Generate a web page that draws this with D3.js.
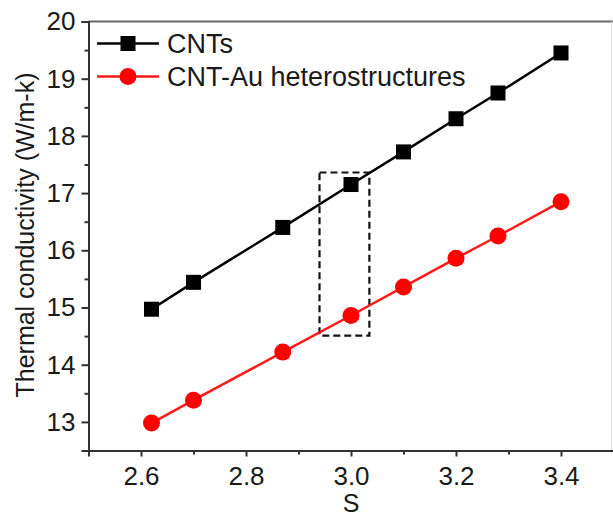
<!DOCTYPE html>
<html>
<head>
<meta charset="utf-8">
<script src="https://cdn.jsdelivr.net/npm/d3@7"></script>
<style>
  body { margin: 0; background: #fff; }
  svg { display: block; font-family: "Liberation Sans", Arial, sans-serif; }
</style>
</head>
<body>
<script>
// Data
const sValues   = [2.62, 2.70, 2.87, 3.00, 3.10, 3.20, 3.28, 3.40];
const cnts      = [14.97, 15.44, 16.40, 17.15, 17.72, 18.30, 18.75, 19.45];
const cntAu     = [12.98, 13.38, 14.22, 14.86, 15.36, 15.86, 16.25, 16.85];
const xTicks    = [2.6, 2.8, 3.0, 3.2, 3.4];
const yTicks    = [13, 14, 15, 16, 17, 18, 19, 20];
const seriesNames = ["CNTs", "CNT-Au heterostructures"];
const highlight = { x0: 2.94, x1: 3.035, y0: 14.51, y1: 17.36 };

const width = 613, height = 518;
const margin = { top: 21.5, right: -0.5, bottom: 67.5, left: 88.5 };

const x = d3.scaleLinear().domain([2.5, 3.5]).range([margin.left, width - margin.right]);
const y = d3.scaleLinear().domain([12.5, 20]).range([height - margin.bottom, margin.top]);

const svg = d3.select("body").append("svg")
    .attr("width", width)
    .attr("height", height);

const textColor = "#1a1a1a";

// frame: top and right edges
svg.append("line")
    .attr("x1", margin.left).attr("x2", width)
    .attr("y1", y(20)).attr("y2", y(20))
    .attr("stroke", "#666").attr("stroke-width", 2);
svg.append("line")
    .attr("x1", 611.5).attr("x2", 611.5)
    .attr("y1", y(20)).attr("y2", y(12.5))
    .attr("stroke", "#ddd").attr("stroke-width", 1);

// x axis
svg.append("g")
    .attr("transform", `translate(0,${y(12.5)})`)
    .call(d3.axisBottom(x).tickValues(xTicks).tickFormat(d3.format(".1f")).tickSize(6).tickPadding(10));
svg.append("g")
    .attr("transform", `translate(0,${y(12.5)})`)
    .call(d3.axisBottom(x).tickValues([2.7, 2.9, 3.1, 3.3]).tickFormat("").tickSize(4))
    .call(g => g.select(".domain").remove());

// y axis
svg.append("g")
    .attr("transform", `translate(${x(2.5)},0)`)
    .call(d3.axisLeft(y).tickValues(yTicks).tickFormat(d3.format("d")).tickSize(7).tickPadding(6));
svg.append("g")
    .attr("transform", `translate(${x(2.5)},0)`)
    .call(d3.axisLeft(y).tickValues([12.5, 13.5, 14.5, 15.5, 16.5, 17.5, 18.5, 19.5]).tickFormat("").tickSize(4))
    .call(g => g.select(".domain").remove());

svg.selectAll(".domain").attr("stroke", "#333").attr("stroke-width", 2);
svg.selectAll(".tick line").attr("stroke", "#333").attr("stroke-width", 2);
svg.selectAll(".tick text")
    .attr("fill", textColor)
    .style("font-size", "26px")
    .style("font-family", "'Liberation Sans', Arial, sans-serif");

// axis titles
svg.append("text")
    .attr("x", x(3.0))
    .attr("y", 512)
    .attr("text-anchor", "middle")
    .attr("fill", textColor)
    .style("font-size", "25px")
    .text("S");

svg.append("text")
    .attr("transform", `translate(34,235) rotate(-90)`)
    .attr("text-anchor", "middle")
    .attr("fill", textColor)
    .style("font-size", "25px")
    .text("Thermal conductivity (W/m-k)");

// highlight box
svg.append("rect")
    .attr("x", x(highlight.x0))
    .attr("y", y(highlight.y1))
    .attr("width", x(highlight.x1) - x(highlight.x0))
    .attr("height", y(highlight.y0) - y(highlight.y1))
    .attr("fill", "none")
    .attr("stroke", "#111")
    .attr("stroke-width", 2.2)
    .attr("stroke-dasharray", "7,4");

// series
const line = d3.line().x(d => x(d[0])).y(d => y(d[1]));
const cntsData = sValues.map((s, i) => [s, cnts[i]]);
const auData = sValues.map((s, i) => [s, cntAu[i]]);

svg.append("path")
    .datum(cntsData)
    .attr("d", line)
    .attr("fill", "none")
    .attr("stroke", "#000")
    .attr("stroke-width", 2.5);
svg.append("g")
    .selectAll("rect")
    .data(cntsData)
    .join("rect")
    .attr("x", d => x(d[0]) - 7.5)
    .attr("y", d => y(d[1]) - 7.5)
    .attr("width", 15)
    .attr("height", 15)
    .attr("fill", "#000");

svg.append("path")
    .datum(auData)
    .attr("d", line)
    .attr("fill", "none")
    .attr("stroke", "#ff1a1a")
    .attr("stroke-width", 2.5);
svg.append("g")
    .selectAll("circle")
    .data(auData)
    .join("circle")
    .attr("cx", d => x(d[0]))
    .attr("cy", d => y(d[1]))
    .attr("r", 8.5)
    .attr("fill", "#ff0000");

// legend
const legend = svg.append("g");
const legendRows = [
  { name: seriesNames[0], color: "#000", shape: "square", yy: 43.5 },
  { name: seriesNames[1], color: "#ff1a1a", shape: "circle", yy: 76.5 }
];
legendRows.forEach(r => {
  legend.append("line")
      .attr("x1", 97).attr("x2", 159)
      .attr("y1", r.yy).attr("y2", r.yy)
      .attr("stroke", r.color).attr("stroke-width", 2.5);
  if (r.shape === "square") {
    legend.append("rect")
        .attr("x", 128 - 7.5).attr("y", r.yy - 7.5)
        .attr("width", 15).attr("height", 15)
        .attr("fill", r.color);
  } else {
    legend.append("circle")
        .attr("cx", 128).attr("cy", r.yy).attr("r", 8.5)
        .attr("fill", "#ff0000");
  }
  legend.append("text")
      .attr("x", 167)
      .attr("y", r.yy)
      .attr("dy", "0.36em")
      .attr("fill", textColor)
      .style("font-size", "27px")
      .text(r.name);
});
</script>
</body>
</html>
